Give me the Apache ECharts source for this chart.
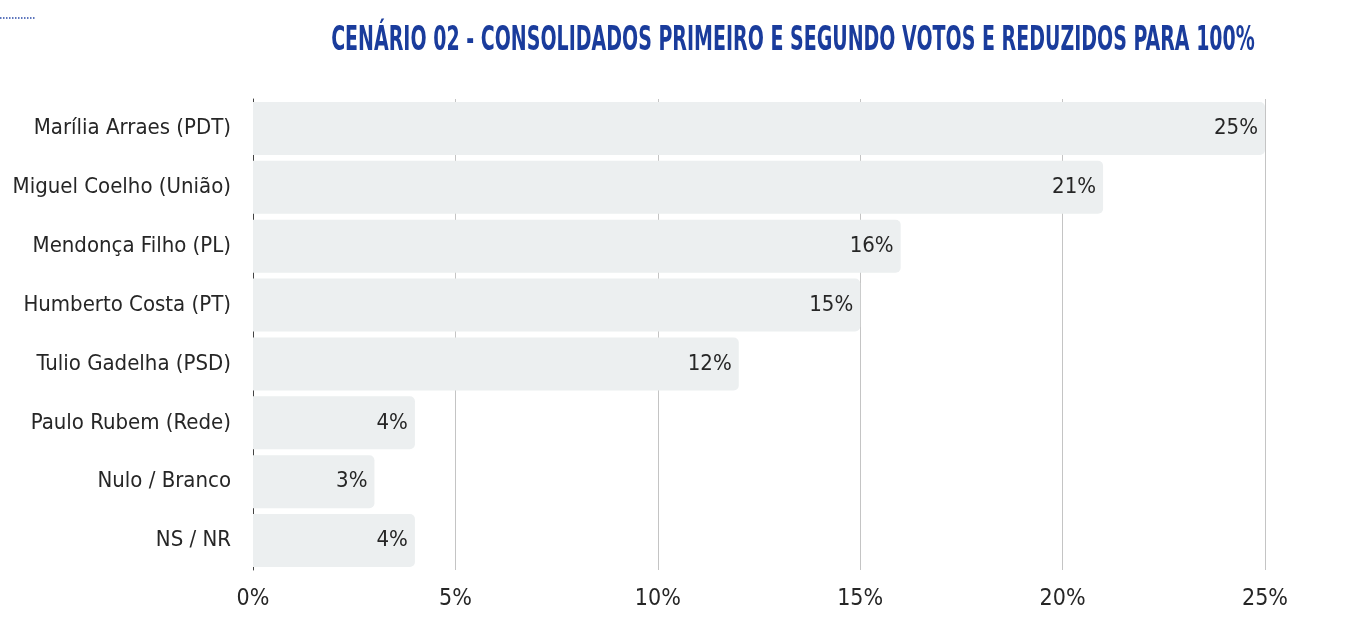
<!DOCTYPE html>
<html>
<head>
<meta charset="utf-8">
<script src="https://cdn.jsdelivr.net/npm/echarts@6/dist/echarts.min.js"></script>
<style>
  html, body { margin: 0; padding: 0; background: #fff; }
  #chart { width: 1359px; height: 635px; }
</style>
</head>
<body>
<div id="chart"></div>
<script>
const titleText = 'CENÁRIO 02 - CONSOLIDADOS PRIMEIRO E SEGUNDO VOTOS E REDUZIDOS PARA 100%';
const candidates = [
  'Marília Arraes (PDT)',
  'Miguel Coelho (União)',
  'Mendonça Filho (PL)',
  'Humberto Costa (PT)',
  'Tulio Gadelha (PSD)',
  'Paulo Rubem (Rede)',
  'Nulo / Branco',
  'NS / NR'
];
const shares = [25, 21, 16, 15, 12, 4, 3, 4];
const xTicks = [0, 5, 10, 15, 20, 25];

const font = '"DejaVu Sans Condensed", "DejaVu Sans", sans-serif';
const chart = echarts.init(document.getElementById('chart'), null, { renderer: 'canvas' });

chart.setOption({
  animation: false,
  graphic: [{
    type: 'line',
    shape: { x1: 0, y1: 18, x2: 35, y2: 18 },
    style: { stroke: '#2a4aa8', lineWidth: 1.5, lineDash: [1.5, 1.5] }
  }, {
    // condensed title: squeeze a real text element horizontally
    type: 'text',
    x: 793,
    y: 41,
    scaleX: 0.64,
    style: {
      text: titleText,
      fontFamily: font,
      fontSize: 33,
      fontWeight: 'bold',
      fill: '#1a3c9c',
      align: 'center',
      verticalAlign: 'middle',
      shadowColor: 'rgba(0,0,0,0.35)',
      shadowBlur: 5,
      shadowOffsetX: 1,
      shadowOffsetY: 3
    }
  }],
  grid: { left: 253, right: 94, top: 99, bottom: 65, containLabel: false },
  xAxis: {
    type: 'value',
    min: xTicks[0],
    max: xTicks[xTicks.length - 1],
    interval: 5,
    axisLine: { show: false },
    axisTick: { show: false },
    splitLine: { show: true, lineStyle: { color: '#c4c4c4', width: 1 } },
    axisLabel: {
      formatter: '{value}%',
      fontFamily: font,
      fontSize: 23,
      color: '#262626',
      margin: 18
    }
  },
  yAxis: {
    type: 'category',
    inverse: true,
    data: candidates,
    axisLine: { show: true, lineStyle: { color: '#444', width: 1 } },
    axisTick: { show: false },
    axisLabel: {
      fontFamily: font,
      fontSize: 22,
      color: '#262626',
      margin: 22
    }
  },
  series: [{
    type: 'bar',
    data: shares,
    barCategoryGap: '10%',
    itemStyle: { color: '#eceff0', borderRadius: [0, 5, 5, 0] },
    label: {
      show: true,
      position: 'insideRight',
      distance: 7,
      formatter: '{c}%',
      fontFamily: font,
      fontSize: 22,
      color: '#262626'
    }
  }]
});
</script>
</body>
</html>
